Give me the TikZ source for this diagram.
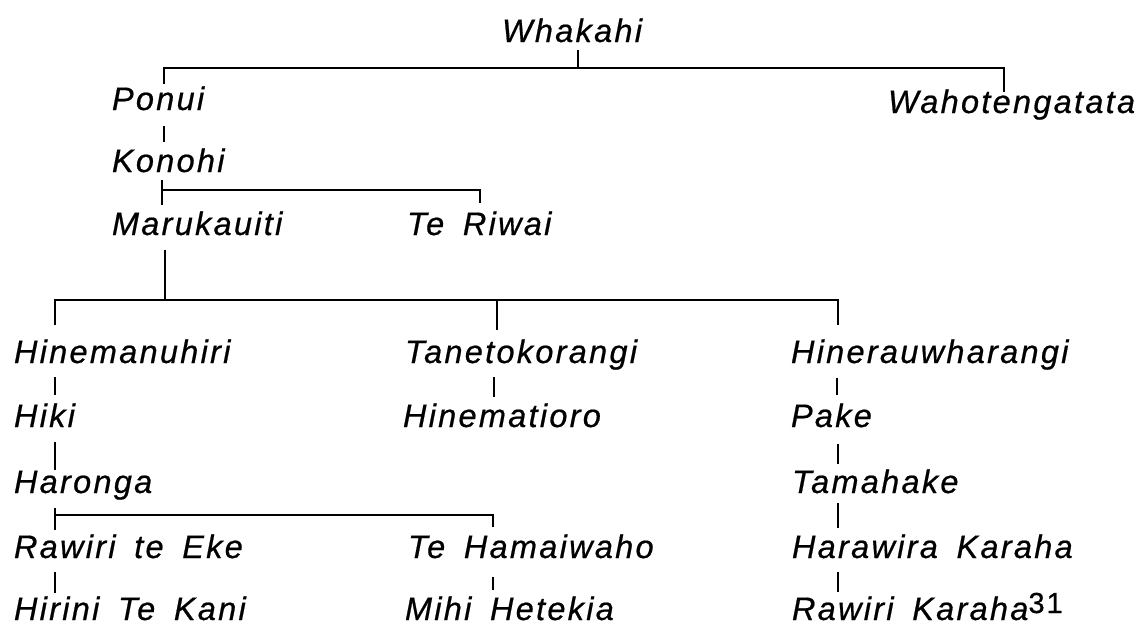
\documentclass[tikz,border=0pt]{standalone}
\usepackage{fontspec}
\newfontfamily\namefont[LetterSpace=7,FakeBold=0.6,WordSpace=1.65]{Liberation Sans}
\usetikzlibrary{calc}
\begin{document}
\begin{tikzpicture}[x=1pt,y=-1pt,
  person/.style={anchor=base west,inner sep=0pt,outer sep=0pt,
    font=\namefont\itshape\fontsize{32.5}{38}\selectfont},
  noteref/.style={anchor=base west,inner sep=0pt,outer sep=0pt,
    font=\namefont\fontsize{29}{32}\selectfont},
  tree/.style={line width=2.3pt,line cap=butt,line join=miter}]
\useasboundingbox (0,0) rectangle (1144,625);
% names
\node[person] (whakahi)  at (502,42)  {Whakahi};
\node[person] (ponui)    at (112,110) {Ponui};
\node[person] (waho)     at (888,113) {Wahotengatata};
\node[person] (konohi)   at (112,172) {Konohi};
\node[person] (maru)     at (112,235) {Marukauiti};
\node[person] (teriwai)  at (407,235) {Te Riwai};
\node[person] (hinemanu) at (14,363)  {Hinemanuhiri};
\node[person] (tane)     at (405,363) {Tanetokorangi};
\node[person] (hinerau)  at (791,363) {Hinerauwharangi};
\node[person] (hiki)     at (14,427)  {Hiki};
\node[person] (hinemat)  at (403,427) {Hinematioro};
\node[person] (pake)     at (791,427) {Pake};
\node[person] (haronga)  at (14,493)  {Haronga};
\node[person] (tamahake) at (792,493) {Tamahake};
\node[person] (rawiri)   at (14,558)  {Rawiri te Eke};
\node[person] (tehama)   at (408,558) {Te Hamaiwaho};
\node[person] (harawira) at (792,558) {Harawira Karaha};
\node[person] (hirini)   at (14,620)  {Hirini Te Kani};
\node[person] (mihi)     at (405,620) {Mihi Hetekia};
\node[person] (rawirik)  at (792,620) {Rawiri Karaha};
\node[noteref] (fn) at ($(rawirik.base east)+(0,-7)$) {31};
% Whakahi -> Ponui, Wahotengatata
\coordinate (topL) at ($(ponui.base west)+(52,-42)$);
\coordinate (topR) at ($(waho.base west)+(116,-45)$);
\coordinate (topM) at ($(whakahi.base west)+(76,26)$);
\draw[tree] ($(whakahi.base west)+(76,8)$) -- (topM);
\draw[tree] ($(ponui.base west)+(52,-26)$) -- (topL) -- (topR) -- ($(waho.base west)+(116,-21)$);
% Ponui -> Konohi
\draw[tree] ($(ponui.base west)+(52,16)$) -- ($(konohi.base west)+(52,-30)$);
% Konohi -> Marukauiti, Te Riwai
\coordinate (kL) at ($(konohi.base west)+(50,18)$);
\coordinate (kR) at ($(teriwai.base west)+(73,-45)$);
\draw[tree] ($(konohi.base west)+(50,8)$) -- ($(maru.base west)+(50,-30)$);
\draw[tree] (kL) -- (kR) -- ($(teriwai.base west)+(73,-32)$);
% Marukauiti -> three children
\coordinate (mJ) at ($(maru.base west)+(53,65)$);
\coordinate (bL) at ($(hinemanu.base west)+(41,-63)$);
\coordinate (bM) at ($(tane.base west)+(92,-63)$);
\coordinate (bR) at ($(hinerau.base west)+(47,-63)$);
\draw[tree] ($(maru.base west)+(53,15)$) -- (mJ);
\draw[tree] ($(hinemanu.base west)+(41,-38)$) -- (bL) -- (bR) -- ($(hinerau.base west)+(47,-38)$);
\draw[tree] (bM) -- ($(tane.base west)+(92,-33)$);
% single lines
\draw[tree] ($(hinemanu.base west)+(41,14)$) -- ($(hiki.base west)+(41,-32)$);
\draw[tree] ($(tane.base west)+(89,14)$) -- ($(hinemat.base west)+(91,-30)$);
\draw[tree] ($(hinerau.base west)+(46,15)$) -- ($(pake.base west)+(46,-32)$);
\draw[tree] ($(hiki.base west)+(41,15)$) -- ($(haronga.base west)+(41,-23)$);
\draw[tree] ($(pake.base west)+(47,17)$) -- ($(tamahake.base west)+(46,-29)$);
% Haronga -> Rawiri te Eke, Te Hamaiwaho
\coordinate (hL) at ($(haronga.base west)+(41,22)$);
\coordinate (hR) at ($(tehama.base west)+(85,-43)$);
\draw[tree] ($(haronga.base west)+(41,15)$) -- ($(rawiri.base west)+(41,-28)$);
\draw[tree] (hL) -- (hR) -- ($(tehama.base west)+(85,-31)$);
\draw[tree] ($(tamahake.base west)+(46,10)$) -- ($(harawira.base west)+(46,-30)$);
\draw[tree] ($(rawiri.base west)+(41,14)$) -- ($(hirini.base west)+(41,-27)$);
\draw[tree] ($(tehama.base west)+(85,19)$) -- ($(mihi.base west)+(88,-30)$);
\draw[tree] ($(harawira.base west)+(46,14)$) -- ($(rawirik.base west)+(46,-28)$);
\end{tikzpicture}
\end{document}
